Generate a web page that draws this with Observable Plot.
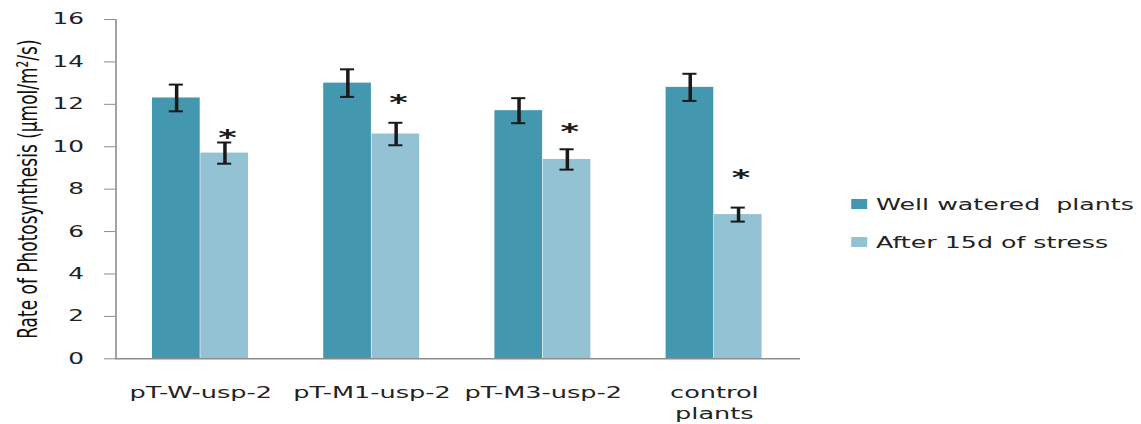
<!DOCTYPE html>
<html><head><meta charset="utf-8">
<script src="https://cdn.jsdelivr.net/npm/d3@7"></script>
<script src="https://cdn.jsdelivr.net/npm/@observablehq/plot@0.6"></script>
<style>
html,body{margin:0;padding:0;background:#fff;}
#wrap{position:absolute;left:0;top:0;width:714px;height:424px;transform:scaleX(1.6);transform-origin:0 0;font-family:"DejaVu Sans";}
#chart{position:absolute;left:0;top:0;}
#legend{position:absolute;left:532px;top:185px;color:#222;font-size:15.8px;}
.row{display:flex;align-items:center;height:38px;white-space:pre;}
.sw{width:10px;height:10px;margin-right:5.5px;flex:none;}
</style></head><body><div id="wrap"><div id="chart"></div><div id="legend"></div></div>
<script>
const groups = ["pT-W-usp-2", "pT-M1-usp-2", "pT-M3-usp-2", "control plants"];
const series = ["Well watered  plants", "After 15d of stress"];
const wellValues = [12.3, 13.0, 11.7, 12.8];
const wellErrors = [0.63, 0.65, 0.59, 0.64];
const stressValues = [9.7, 10.6, 9.4, 6.8];
const stressErrors = [0.5, 0.53, 0.48, 0.33];
const starValues = [10.7, 12.35, 11.0, 8.8];
const yTicks = [0, 2, 4, 6, 8, 10, 12, 14, 16];
const yLabel = "Rate of Photosynthesis (μmol/m²/s)";
const colors = ["#4397ae", "#93c2d5"];

const well = groups.map((g, i) => ({group: g, value: wellValues[i], err: wellErrors[i]}));
const stress = groups.map((g, i) => ({group: g, value: stressValues[i], err: stressErrors[i], star: starValues[i]}));

const xRange = [71, 500], pIn = 0.437, pOut = 0.2185;
const step = (xRange[1] - xRange[0]) / (groups.length - pIn + 2 * pOut);
const bw = step * (1 - pIn);
const half = bw / 2, q = bw / 4, capW = 9.2, capInset = (bw - capW) / 2;
const ink = "#1a1a1a";

function errMarks(rows, dx) {
  return [
    Plot.ruleX(rows, {x: "group", y1: d => d.value - d.err, y2: d => d.value + d.err, dx, stroke: ink, strokeWidth: 2.2}),
    Plot.tickY(rows, {x: "group", y: d => d.value + d.err, dx, insetLeft: capInset, insetRight: capInset, stroke: ink, strokeWidth: 2}),
    Plot.tickY(rows, {x: "group", y: d => d.value - d.err, dx, insetLeft: capInset, insetRight: capInset, stroke: ink, strokeWidth: 2})
  ];
}

const chart = Plot.plot({
  width: 506, height: 424,
  marginLeft: 72, marginRight: 6, marginTop: 19, marginBottom: 65.7,
  style: {fontFamily: "DejaVu Sans", fontSize: "16px", color: "#222", background: "transparent"},
  x: {domain: groups, range: xRange, paddingInner: pIn, paddingOuter: pOut, label: null},
  y: {domain: [0, 16], label: null},
  marks: [
    Plot.barY(well, {x: "group", y: "value", fill: colors[0], insetRight: half}),
    Plot.barY(stress, {x: "group", y: "value", fill: colors[1], insetLeft: half}),
    ...errMarks(well, -q),
    ...errMarks(stress, q),
    Plot.text(stress, {x: "group", y: "star", text: () => "*", dx: q + 1.5, dy: 6, fontSize: 22, fontWeight: "bold", fill: ink}),
    Plot.frame({anchor: "left", stroke: "#8c8c8c", strokeWidth: 1}),
    Plot.ruleY([0], {stroke: "#8c8c8c", strokeWidth: 1.4}),
    Plot.axisY({ticks: yTicks, tickSize: 7, tickPadding: 13, stroke: "#8c8c8c", fill: "#222", fontSize: 15.5, label: null}),
    Plot.axisY({ticks: [], tickSize: 0, label: yLabel, labelAnchor: "center", labelOffset: 61.5, labelArrow: "none", fontSize: 17, fill: "#111"}),
    Plot.axisX({tickSize: 0, tickPadding: 24.5, fontSize: 16, lineHeight: 1.3, fill: "#222", tickFormat: d => d.replace(" ", "\n"), label: null})
  ]
});
document.getElementById("chart").appendChild(chart);

const legend = document.getElementById("legend");
series.forEach((s, i) => {
  const row = document.createElement("div");
  row.className = "row";
  const sw = document.createElement("span");
  sw.className = "sw";
  sw.style.background = colors[i];
  const t = document.createElement("span");
  t.textContent = s;
  row.appendChild(sw); row.appendChild(t);
  legend.appendChild(row);
});
</script></body></html>
